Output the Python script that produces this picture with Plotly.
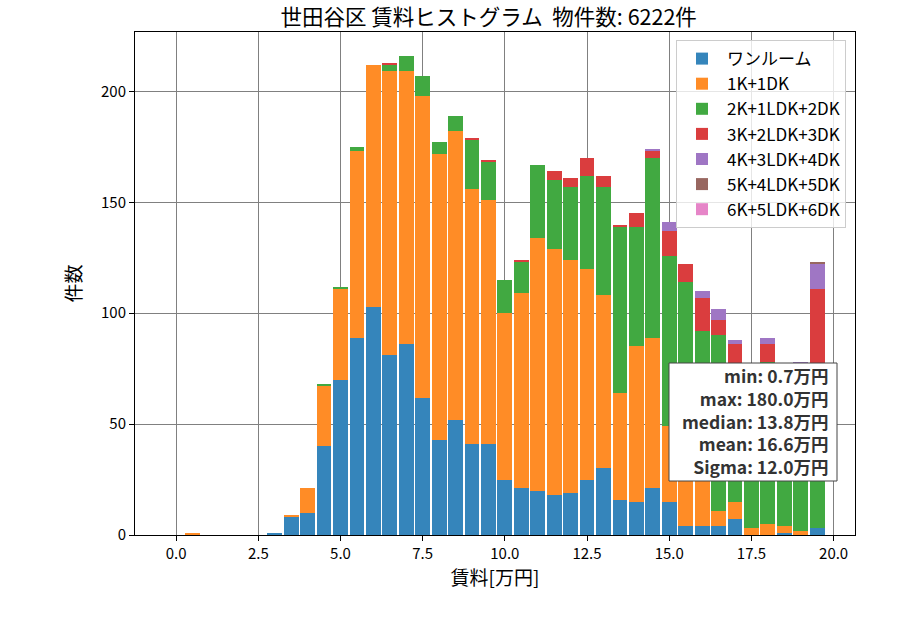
import plotly.graph_objects as go

# bin centers (万円)
centers = [0.5, 1.0, 1.5, 2.0, 2.5, 3.0, 3.5, 4.0, 4.5, 5.0,
           5.5, 6.0, 6.5, 7.0, 7.5, 8.0, 8.5, 9.0, 9.5, 10.0,
           10.5, 11.0, 11.5, 12.0, 12.5, 13.0, 13.5, 14.0, 14.5, 15.0,
           15.5, 16.0, 16.5, 17.0, 17.5, 18.0, 18.5, 19.0, 19.5]

one_room = [0, 0, 0, 0, 0, 1, 8, 10, 40, 70,
            89, 103, 81, 86, 62, 43, 52, 41, 41, 25,
            21, 20, 18, 19, 25, 30, 16, 15, 21, 15,
            4, 4, 4, 7, 0, 0, 1, 0, 3]
k1_dk1 = [1, 0, 0, 0, 0, 0, 1, 11, 27, 41,
          84, 109, 128, 123, 136, 129, 130, 115, 110, 75,
          88, 114, 111, 105, 95, 78, 48, 70, 68, 34,
          36, 30, 7, 8, 3, 5, 3, 2, 0]
k2_ldk2 = [0, 0, 0, 0, 0, 0, 0, 0, 1, 1,
           2, 0, 3, 7, 9, 5, 7, 22, 17, 15,
           14, 33, 31, 33, 42, 49, 75, 54, 81, 77,
           74, 58, 79, 55, 58, 73, 62, 64, 55]
k3_ldk3 = [0, 0, 0, 0, 0, 0, 0, 0, 0, 0,
           0, 0, 1, 0, 0, 0, 0, 1, 1, 0,
           1, 0, 4, 4, 8, 5, 1, 6, 3, 11,
           8, 15, 7, 16, 0, 8, 4, 11, 53]
k4_ldk4 = [0, 0, 0, 0, 0, 0, 0, 0, 0, 0,
           0, 0, 0, 0, 0, 0, 0, 0, 0, 0,
           0, 0, 0, 0, 0, 0, 0, 0, 1, 4,
           0, 3, 5, 2, 0, 3, 0, 1, 11]
k5_ldk5 = [0, 0, 0, 0, 0, 0, 0, 0, 0, 0,
           0, 0, 0, 0, 0, 0, 0, 0, 0, 0,
           0, 0, 0, 0, 0, 0, 0, 0, 0, 0,
           0, 0, 0, 0, 0, 0, 0, 0, 1]
k6_ldk6 = [0] * 39

series_names = ["ワンルーム", "1K+1DK", "2K+1LDK+2DK", "3K+2LDK+3DK",
                "4K+3LDK+4DK", "5K+4LDK+5DK", "6K+5LDK+6DK"]
series_values = [one_room, k1_dk1, k2_ldk2, k3_ldk3, k4_ldk4, k5_ldk5, k6_ldk6]
colors = ["#3585BB", "#FF8C26", "#41A941", "#DA3D3E", "#9F76C4", "#986760", "#E685C8"]

x_ticks = [0.0, 2.5, 5.0, 7.5, 10.0, 12.5, 15.0, 17.5, 20.0]
x_tick_labels = ["0.0", "2.5", "5.0", "7.5", "10.0", "12.5", "15.0", "17.5", "20.0"]
y_ticks = [0, 50, 100, 150, 200]

stats_lines = ["min: 0.7万円", "max: 180.0万円", "median: 13.8万円",
               "mean: 16.6万円", "Sigma: 12.0万円"]
title_text = "世田谷区 賃料ヒストグラム  物件数: 6222件"

FONT = "Noto Sans CJK JP"

fig = go.Figure()
for name, vals, col in zip(series_names, series_values, colors):
    fig.add_trace(go.Bar(x=centers, y=vals, name=name,
                         marker=dict(color=col, line=dict(width=0))))

fig.update_layout(
    barmode="stack",
    bargap=0.1,
    width=900, height=630,
    margin=dict(l=135, r=45, t=32, b=95),
    paper_bgcolor="white",
    plot_bgcolor="white",
    font=dict(family=FONT, size=15, color="black"),
    title=dict(text=title_text, x=0.543, xref="container", xanchor="center",
               y=1 - 17 / 630, yref="container", yanchor="middle",
               font=dict(size=21.5, family=FONT, color="black")),
    legend=dict(x=0.9875, y=0.984, xanchor="right", yanchor="top",
                traceorder="normal",
                bgcolor="rgba(255,255,255,0.8)", bordercolor="#cccccc",
                borderwidth=1, font=dict(size=17, family=FONT),
                itemwidth=40, tracegroupgap=0),
    showlegend=True,
)

fig.update_xaxes(
    range=[-1.25, 20.65],
    tickmode="array", tickvals=x_ticks, ticktext=x_tick_labels,
    ticks="outside", ticklen=5, tickcolor="black", tickwidth=1,
    showline=True, linecolor="black", linewidth=1, mirror=True,
    showgrid=True, gridcolor="#808080", gridwidth=1,
    zeroline=False, layer="above traces",
    tickfont=dict(size=15),
    title=dict(text="賃料[万円]", font=dict(size=19), standoff=6),
)
fig.update_yaxes(
    range=[0, 226.8],
    tickmode="array", tickvals=y_ticks,
    ticks="outside", ticklen=5, tickcolor="black", tickwidth=1,
    showline=True, linecolor="black", linewidth=1, mirror=True,
    showgrid=True, gridcolor="#808080", gridwidth=1,
    zeroline=False, layer="above traces",
    tickfont=dict(size=15),
    title=dict(text="件数", font=dict(size=19), standoff=14),
)

# statistics box: frame + right-aligned multi-line text
px_w, px_h = 720.0, 503.0
def px_to_paper_x(px):
    return (px - 135) / px_w
def px_to_paper_y(py):
    return (535 - py) / px_h

fig.add_shape(type="rect", xref="paper", yref="paper",
              x0=px_to_paper_x(669), x1=px_to_paper_x(837),
              y0=px_to_paper_y(481), y1=px_to_paper_y(363),
              fillcolor="white", line=dict(color="#444444", width=1),
              layer="above")
fig.add_annotation(
    text="<br>".join("<b>" + s + "</b>" for s in stats_lines),
    xref="paper", yref="paper",
    x=px_to_paper_x(830), y=px_to_paper_y(421),
    xanchor="right", yanchor="middle", align="right",
    showarrow=False, borderpad=0,
    font=dict(size=17.5, family=FONT, color="#333333"),
)

fig.write_html("out.html")
